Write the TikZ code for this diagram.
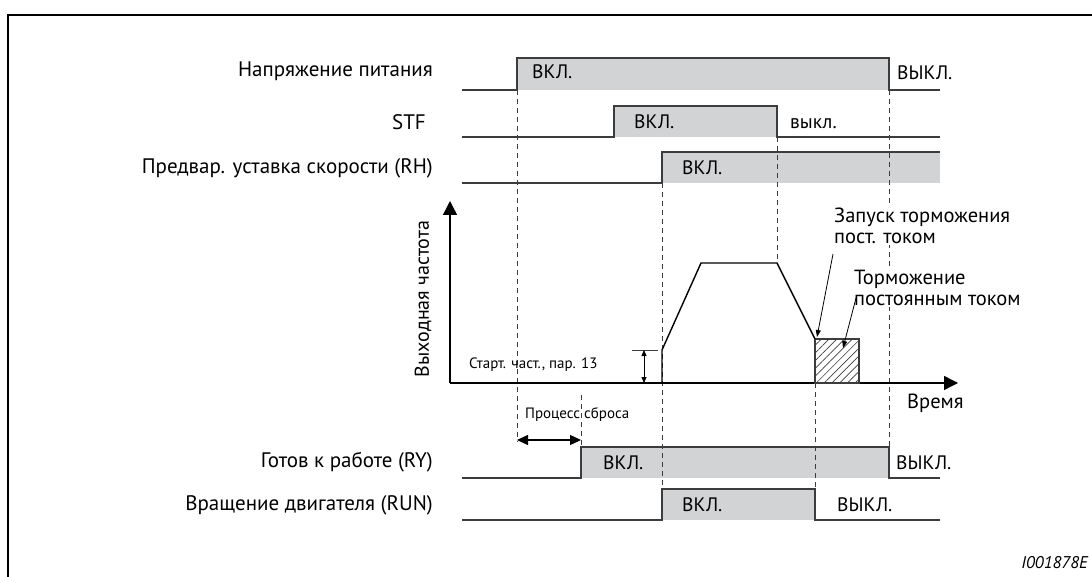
\documentclass[tikz,border=0pt]{standalone}
\usepackage{fontspec}
\setmainfont{PT Sans}
\usetikzlibrary{arrows.meta,patterns.meta}
\definecolor{boxgray}{RGB}{210,211,213}
\definecolor{linegray}{RGB}{60,60,60}
\begin{document}
\begin{tikzpicture}[x=1pt,y=-1pt,
  sig/.style={draw=linegray,line width=1.4pt,line join=miter},
  guide/.style={draw=linegray,line width=0.8pt,dash pattern=on 5pt off 4pt},
  lbl/.style={anchor=east,font=\fontsize{21}{24}\selectfont,inner sep=0pt},
  st/.style={anchor=west,font=\fontsize{19.5}{22}\selectfont,inner sep=0pt},
  smalltext/.style={anchor=west,font=\fontsize{15}{17}\selectfont,inner sep=0pt},
  note/.style={anchor=north west,align=left,font=\fontsize{20.5}{21}\selectfont,inner sep=1pt,fill=white},
  axisline/.style={draw=black,line width=1.4pt,-{Triangle[length=14pt,width=14pt]}},
  bigdbl/.style={draw=black,line width=1.2pt,{Triangle[length=11pt,width=10pt]}-{Triangle[length=11pt,width=10pt]}},
  smalldbl/.style={draw=black,line width=0.8pt,{Triangle[length=6pt,width=5pt]}-{Triangle[length=6pt,width=5pt]}},
  pointer/.style={draw=black,line width=0.8pt,-{Triangle[length=7pt,width=5pt]}},
]
\useasboundingbox (0,0) rectangle (1092,577);
% frame
\draw[line width=2.2pt] (8,577) -- (8,15) -- (1092,15);

% gray high regions
\fill[boxgray] (517,58) rectangle (889,90);
\fill[boxgray] (614,106) rectangle (777,137);
\fill[boxgray] (662,152) rectangle (940,183);
\fill[boxgray] (581,447) rectangle (889,478);
\fill[boxgray] (662,489) rectangle (815,520);

% dashed guides
\draw[guide] (517,90) -- (517,442);
\draw[guide] (581,395) -- (581,447);
\draw[guide] (662,183) -- (662,489);
\draw[guide] (777,137) -- (777,263);
\draw[guide] (815,383) -- (815,489);
\draw[guide] (889,90) -- (889,447);

% signal lines
\draw[sig] (462,90) -- (517,90) -- (517,58) -- (889,58) -- (889,90) -- (940,90);
\draw[sig] (462,137) -- (614,137) -- (614,106) -- (777,106) -- (777,137) -- (940,137);
\draw[sig] (462,183) -- (662,183) -- (662,152) -- (940,152);
\draw[sig] (462,478) -- (581,478) -- (581,447) -- (889,447) -- (889,478) -- (940,478);
\draw[sig] (462,520) -- (662,520) -- (662,489) -- (815,489) -- (815,520) -- (940,520);

% row labels
\node[lbl] (l1) at (433,71) {Напряжение питания};
\node[lbl] (l2) at (426,122) {STF};
\node[lbl] (l3) at (433,168) {Предвар. уставка скорости (RH)};
\node[lbl] (l4) at (433,462) {Готов к работе (RY)};
\node[lbl] (l5) at (433,505) {Вращение двигателя (RUN)};

% state labels
\node[st] (on1) at (532,72) {ВКЛ.};
\node[st] (off1) at (897,73) {ВЫКЛ.};
\node[st] (on2) at (634,122) {ВКЛ.};
\node[st] (off2) at (790,124) {выкл.};
\node[st] (on3) at (682,168) {ВКЛ.};
\node[st] (on4) at (603,463) {ВКЛ.};
\node[st] (off4) at (896,463) {ВЫКЛ.};
\node[st] (on5) at (682,505) {ВКЛ.};
\node[st] (off5) at (837,505) {ВЫКЛ.};

% frequency graph
\coordinate (O) at (450,383);
\coordinate (ytip) at (450,201);
\coordinate (xtip) at (958,383);
\draw[axisline] (O) -- (ytip);
\draw[axisline] (O) -- (xtip);
\node[rotate=90,font=\fontsize{20}{22}\selectfont,inner sep=0pt] (ylab) at (423,299) {Выходная частота};
\node[anchor=west,font=\fontsize{20.5}{22}\selectfont,inner sep=0pt] (tlab) at (907,403) {Время};

\draw[pattern={Lines[angle=45,distance=5.5pt,line width=0.7pt]},pattern color=linegray,draw=linegray,line width=1.2pt] (815,339) rectangle (859,383);
\draw[draw=black,line width=1.4pt,line join=miter] (662,383) -- (662,350) -- (701,263) -- (777,263) -- (815,339);

\draw[line width=0.8pt,draw=linegray] (632,350) -- (658,350);
\coordinate (sf1) at (644,350);
\coordinate (sf2) at (644,383);
\draw[smalldbl] (sf1) -- (sf2);
\node[smalltext] (sflab) at (469,365) {Старт. част., пар. 13};

% reset process
\coordinate (rp1) at (517,440);
\coordinate (rp2) at (581,440);
\draw[bigdbl] (rp1) -- (rp2);
\node[smalltext] (rplab) at (525,415) {Процесс сброса};

% annotations
\node[note] (n1) at (833,207) {Запуск торможения\\пост. током};
\node[note] (n2) at (853,269) {Торможение\\постоянным током};
\coordinate (n1a) at (833,254);
\coordinate (n1b) at (817,337);
\coordinate (n2a) at (856,298);
\coordinate (n2b) at (843,348);
\draw[pointer] (n1a) -- (n1b);
\draw[pointer] (n2a) -- (n2b);

% figure code
\node[anchor=east,font=\fontsize{17}{19}\selectfont\itshape,inner sep=0pt] (code) at (1088,563) {I001878E};
\end{tikzpicture}
\end{document}
